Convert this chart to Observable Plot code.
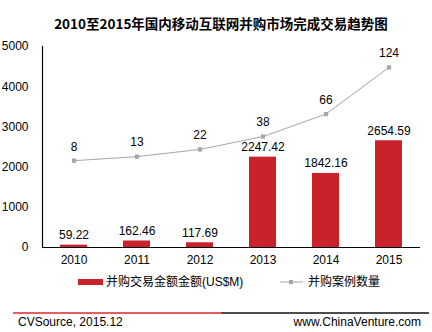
<!DOCTYPE html>
<html><head><meta charset="utf-8">
<script src="https://cdn.jsdelivr.net/npm/d3@7"></script>
<script src="https://cdn.jsdelivr.net/npm/@observablehq/plot@0.6"></script>
<style>
body{margin:0;background:#fff;}
#chart{position:relative;width:432px;height:332px;}
</style>
</head><body><div id="chart"></div>
<script>
const years = ["2010","2011","2012","2013","2014","2015"];
const amounts = [59.22, 162.46, 117.69, 2247.42, 1842.16, 2654.59];
const amountLabels = ["59.22","162.46","117.69","2247.42","1842.16","2654.59"];
const counts = [8, 13, 22, 38, 66, 124];
const yTicks = [0, 1000, 2000, 3000, 4000, 5000];
const title = "2010至2015年国内移动互联网并购市场完成交易趋势图";
const seriesBar = "并购交易金额金额(US$M)";
const seriesLine = "并购案例数量";
const source = "CVSource, 2015.12";
const site = "www.ChinaVenture.com";

const FONT = "'Liberation Sans', Arial, 'Noto Sans CJK SC', sans-serif";
const RED = "#C9222B", GRAY = "#A6A6A6";
// secondary (hidden) axis: domain [-100,150] mapped onto primary [0,5000]
const toPrimary = v => 2000 + v * 20;

const barData = years.map((y, i) => ({year: y, amount: amounts[i], label: amountLabels[i]}));
const lineData = years.map((y, i) => ({year: y, count: counts[i]}));

const plot = Plot.plot({
  width: 432, height: 332,
  marginTop: 46, marginBottom: 85, marginLeft: 42, marginRight: 12,
  style: {fontFamily: FONT, fontSize: "12px", color: "#000", background: "#fff"},
  x: {domain: years, paddingInner: 0.57, paddingOuter: 0.285, label: null},
  y: {domain: [0, 5000], label: null},
  marks: [
    Plot.barY(barData, {x: "year", y: "amount", fill: RED}),
    Plot.text(barData, {x: "year", y: "amount", text: "label", dy: -10, fontSize: 12, fill: "#000"}),
    Plot.line(lineData, {x: "year", y: d => toPrimary(d.count), stroke: GRAY, strokeWidth: 1}),
    Plot.dot(lineData, {x: "year", y: d => toPrimary(d.count), symbol: "square", r: 2.4, fill: GRAY, stroke: null}),
    Plot.text(lineData, {x: "year", y: d => toPrimary(d.count), text: d => String(d.count), dy: -14, fontSize: 12, fill: "#000"}),
    Plot.axisY({ticks: yTicks, tickFormat: d => String(d), tickSize: 0, tickPadding: 14, fontSize: 12, label: null}),
    Plot.axisX({tickSize: 0, tickPadding: 8, fontSize: 12, label: null}),
    Plot.frame({anchor: "left", stroke: "#000", strokeWidth: 1.2}),
    Plot.ruleY([0], {stroke: "#000", strokeWidth: 1.2})
  ]
});
document.getElementById("chart").appendChild(plot);

const svg = d3.select(plot);
const addText = (x, y, t, anchor, size, family, weight) =>
  svg.append("text").attr("x", x).attr("y", y).attr("text-anchor", anchor)
    .attr("dominant-baseline", "central").attr("font-family", family || FONT)
    .attr("font-weight", weight || "normal").attr("font-size", size).attr("fill", "#000").text(t);
// title
addText(221, 23, title, "middle", 13.5, "'Noto Sans CJK SC', 'Liberation Sans', sans-serif", "bold");
// legend
svg.append("rect").attr("x", 78).attr("y", 279).attr("width", 25).attr("height", 6).attr("fill", RED);
addText(106, 282, seriesBar, "start", 12);
svg.append("line").attr("x1", 280).attr("x2", 303).attr("y1", 282).attr("y2", 282)
  .attr("stroke", GRAY).attr("stroke-width", 1);
svg.append("rect").attr("x", 289).attr("y", 280).attr("width", 4).attr("height", 4).attr("fill", GRAY);
addText(308, 282, seriesLine, "start", 12);
// footer
svg.append("line").attr("x1", 13).attr("x2", 221).attr("y1", 313).attr("y2", 313)
  .attr("stroke", "#E0262E").attr("stroke-width", 1.5);
svg.append("line").attr("x1", 221).attr("x2", 429).attr("y1", 313).attr("y2", 313)
  .attr("stroke", "#111").attr("stroke-width", 1.5);
addText(18, 322, source, "start", 12);
addText(421, 322, site, "end", 12);
</script>
</body></html>
